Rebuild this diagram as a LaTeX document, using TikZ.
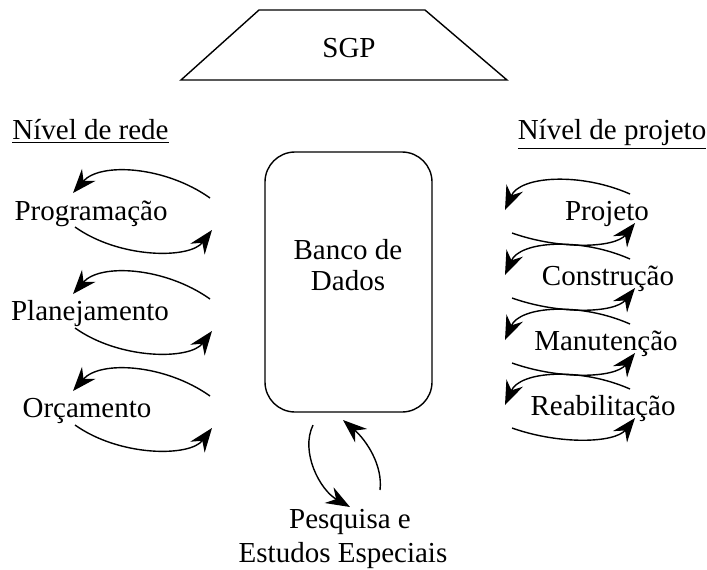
\documentclass[tikz,border=0pt]{standalone}
\usepackage{fontspec}
\setmainfont{Liberation Serif}
\usetikzlibrary{arrows.meta}
\begin{document}
\begin{tikzpicture}[x=0.5pt,y=-0.5pt,line width=0.7pt,
  txt/.style={font=\fontsize{14.5}{17}\selectfont,inner sep=0pt,anchor=base},
  flow/.style={-{Stealth[length=12pt,width=9pt,inset=4pt]}},
  dbbox/.style={draw,rounded corners=15pt,minimum width=83.5pt,minimum height=130pt,inner sep=0pt}]
\useasboundingbox (0,0) rectangle (707,569);
% SGP trapezoid
\coordinate (t1) at (259,10);
\coordinate (t2) at (425,10);
\coordinate (t3) at (507,80);
\coordinate (t4) at (181,80);
\draw (t1) -- (t2) -- (t3) -- (t4) -- cycle;
\node[txt] (sgp) at (349,57) {SGP};
% headings
\node[txt] (rede) at (90.5,139) {\underline{Nível de rede}};
\node[txt] (proj) at (612,139) {\underline{Nível de projeto}};
% database
\node[dbbox] (db) at (348.5,282) {};
\node[txt] (db1) at (348,259) {Banco de};
\node[txt] (db2) at (348,290) {Dados};
% left items
\node[txt] (prog) at (91,220) {Programação};
\node[txt] (plan) at (90,320) {Planejamento};
\node[txt] (orc) at (87,417) {Orçamento};
\foreach \yc in {214,315,412}{
  \draw[flow] (210,\yc-16) .. controls (165,\yc-48) and (100,\yc-52) .. (73,\yc-21);
  \draw[flow] (75,\yc+13) .. controls (120,\yc+45) and (190,\yc+45) .. (212,\yc+16);
}
% right items
\node[txt] (projeto) at (607,220) {Projeto};
\node[txt] (constr) at (608,285) {Construção};
\node[txt] (manut) at (606,350) {Manutenção};
\node[txt] (reab) at (603,415) {Reabilitação};
\foreach \b in {220,285,350,415}{
  \draw[flow] (630,\b-26) .. controls (580,\b-48) and (520,\b-44) .. (505,\b-10);
  \draw[flow] (512,\b+13) .. controls (560,\b+30) and (615,\b+28) .. (635,\b+3);
}
% research
\node[txt] (pesq1) at (350,528) {Pesquisa e};
\node[txt] (pesq2) at (343,562) {Estudos Especiais};
\coordinate (d1) at (313,425);
\coordinate (d2) at (350,507);
\coordinate (u1) at (380,490);
\coordinate (u2) at (343,420);
\draw[flow] (d1) .. controls (300,452) and (320,490) .. (d2);
\draw[flow] (u1) .. controls (383,465) and (366,440) .. (u2);
\end{tikzpicture}
\end{document}
